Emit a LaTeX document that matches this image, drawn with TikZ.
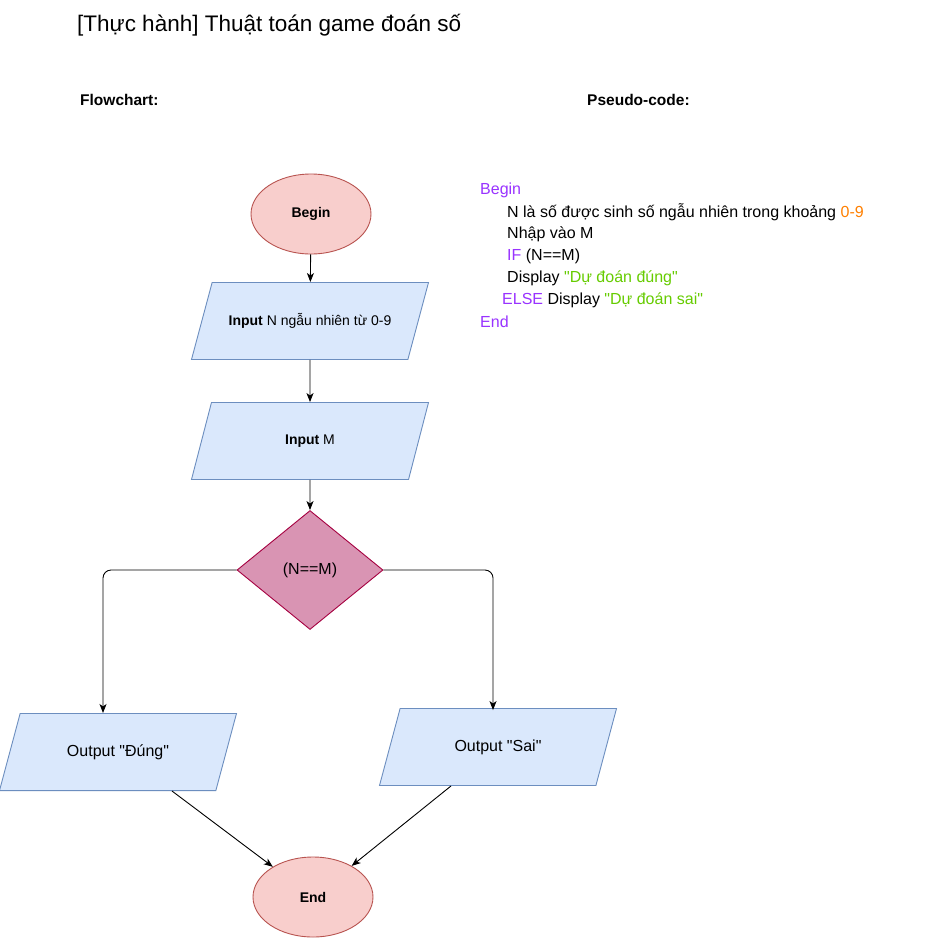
\documentclass[tikz,border=0pt]{standalone}
\usepackage{fontspec}
\setmainfont{Liberation Sans}
\usetikzlibrary{shapes.geometric,arrows.meta}
\definecolor{termfill}{RGB}{248,206,204}
\definecolor{termline}{RGB}{184,84,80}
\definecolor{iofill}{RGB}{218,232,252}
\definecolor{ioline}{RGB}{108,142,191}
\definecolor{decfill}{RGB}{217,148,179}
\definecolor{decline}{RGB}{165,0,64}
\definecolor{kwpurple}{RGB}{153,51,255}
\definecolor{numorange}{RGB}{255,128,0}
\definecolor{strgreen}{RGB}{102,204,0}
\tikzset{
  term/.style={ellipse,draw=termline,fill=termfill,line width=0.9pt,minimum width=120pt,minimum height=80pt,inner sep=0pt,font=\fontsize{14}{16}\selectfont\bfseries},
  io/.style={trapezium,trapezium left angle=75,trapezium right angle=105,trapezium stretches body,draw=ioline,fill=iofill,line width=0.9pt,minimum width=237pt,minimum height=77pt,inner xsep=0pt,inner ysep=31pt,font=\fontsize{14}{16}\selectfont},
  decide/.style={diamond,aspect=1.23,draw=decline,fill=decfill,line width=0.9pt,minimum width=146pt,minimum height=119pt,inner sep=0pt,font=\fontsize{16}{18}\selectfont},
  flow/.style={-{Stealth[length=9pt,width=7pt,inset=2.5pt]},line width=0.9pt,black},
  code/.style={anchor=west,inner sep=0pt,font=\fontsize{16}{19}\selectfont},
}
\begin{document}
\begin{tikzpicture}[x=1pt,y=-1pt]
          \useasboundingbox (0,0) rectangle (939,937);
          \fill [white] (0,0) rectangle (939,937);

          \node [anchor=west,inner sep=0pt,font=\fontsize{22.5}{26}\selectfont] (title) at (77,25) {[Thực hành] Thuật toán game đoán số};
          \node [anchor=west,inner sep=0pt,font=\fontsize{15.5}{18}\selectfont\bfseries] (lblflow) at (80,100) {Flowchart:};
          \node [anchor=west,inner sep=0pt,font=\fontsize{15.5}{18}\selectfont\bfseries] (lblcode) at (587,100) {Pseudo-code:};

          \node [term] (begin) at (311,214) {Begin};
          \node [io] (inN) at (310,321) {\textbf{Input} N ngẫu nhiên từ 0-9};
          \node [io] (inM) at (310,441) {\textbf{Input} M};
          \node [decide] (cmp) at (310,570) {(N==M)};
          \node [io,font=\fontsize{16}{18}\selectfont] (outT) at (118,752) {Output \textquotedbl Đúng\textquotedbl};
          \node [io,font=\fontsize{16}{18}\selectfont] (outF) at (498,747) {Output \textquotedbl Sai\textquotedbl};
          \node [term] (end) at (313,897) {End};

          \draw [flow] (begin) -- (inN);
          \draw [flow] (inN) -- (inM);
          \draw [flow] (inM) -- (cmp);
          \draw [flow,rounded corners=8pt] (cmp.west) -| ([xshift=-15pt]outT.north);
          \draw [flow,rounded corners=8pt] (cmp.east) -| ([xshift=-5pt,yshift=-2pt]outF.north);
          \draw [flow] ([xshift=54pt]outT.south) -- (end);
          \draw [flow] ([xshift=-47pt]outF.south) -- (end);

          % pseudo-code
          \node [code,text=kwpurple] (cBegin) at (480,190) {Begin};
          \node [code] (cL1) at (507,212) {N là số được sinh số ngẫu nhiên trong khoảng \textcolor{numorange}{0-9}};
          \node [code] (cL2) at (507,234) {Nhập vào M};
          \node [code] (cL3) at (507,256) {\textcolor{kwpurple}{IF} (N==M)};
          \node [code] (cL4) at (507,278) {Display \textcolor{strgreen}{\textquotedbl Dự đoán đúng\textquotedbl}};
          \node [code] (cL5) at (502,300) {\textcolor{kwpurple}{ELSE} Display \textcolor{strgreen}{\textquotedbl Dự đoán sai\textquotedbl}};
          \node [code,text=kwpurple] (cEnd) at (480,322) {End};
\end{tikzpicture}
\end{document}
